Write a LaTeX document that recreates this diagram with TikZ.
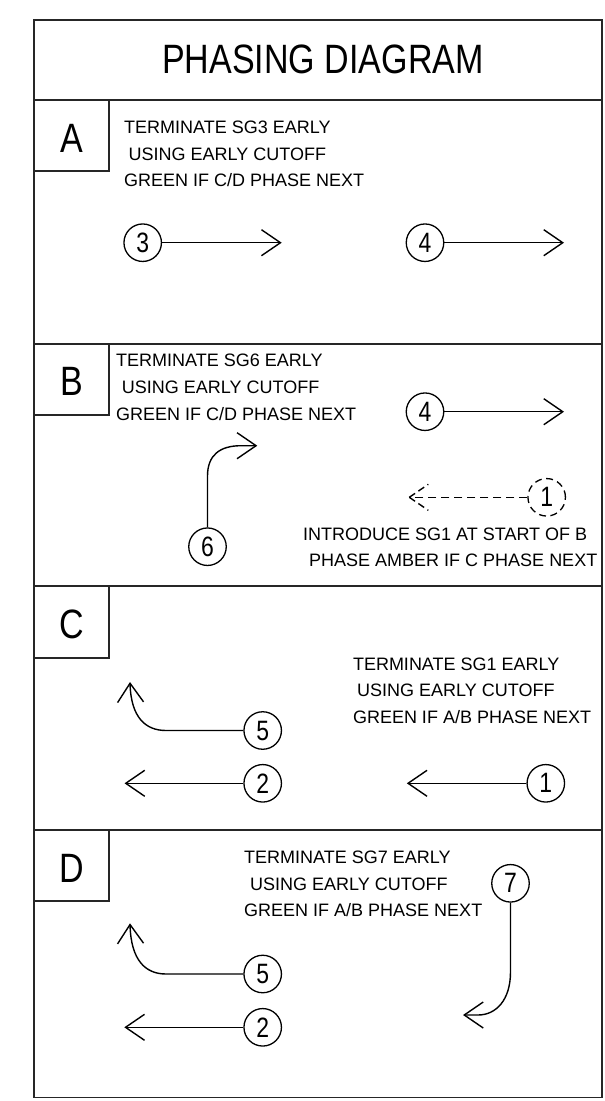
\documentclass[tikz,border=0pt]{standalone}
\usepackage{fontspec}
\setmainfont{Liberation Sans}
\usetikzlibrary{arrows.meta}
\newcommand\sgnum[1]{\scalebox{0.82}[1]{#1}}
\newcommand\narrowtxt[1]{\scalebox{0.83}[1]{#1}}
\begin{document}
\begin{tikzpicture}[x=1pt,y=-1pt,
  frame/.style={line width=1.8pt, draw=black!85},
  conn/.style={line width=1.4pt, -{Straight Barb[length=19pt,width=26pt]}},
  sig/.style={circle, draw, line width=1.3pt, minimum size=37.5pt, inner sep=0pt, font=\fontsize{28}{28}\selectfont},
  txt/.style={anchor=base west, inner sep=0pt, font=\fontsize{18}{20}\selectfont},
  big/.style={anchor=base, inner sep=0pt, font=\fontsize{41}{41}\selectfont},
  dsh/.style={line width=1.4pt, dash pattern=on 8pt off 5pt}
]
\useasboundingbox (0,0) rectangle (605,1101);
% frame
\draw[frame] (34.3,20.3) rectangle (602,1097.5);
\draw[frame] (34.3,99.7) -- (602,99.7);
\draw[frame] (34.3,344) -- (602,344);
\draw[frame] (34.3,586) -- (602,586);
\draw[frame] (34.3,830) -- (602,830);
% label boxes
\draw[frame] (34.3,171) -- (108.7,171) -- (108.7,99.7);
\draw[frame] (34.3,415) -- (108.7,415) -- (108.7,344);
\draw[frame] (34.3,657.7) -- (108.7,657.7) -- (108.7,586);
\draw[frame] (34.3,901) -- (108.7,901) -- (108.7,830);
% title and labels
\node[big] (title) at (323,73.3) {\narrowtxt{PHASING DIAGRAM}};
\node[big] (labA) at (72.3,152.3) {\narrowtxt{A}};
\node[big] (labB) at (71.7,395) {\narrowtxt{B}};
\node[big] (labC) at (72,638) {\narrowtxt{C}};
\node[big] (labD) at (72,882) {\narrowtxt{D}};
% ---------- A
\node[txt] (ta1) at (124,133.3) {TERMINATE SG3 EARLY};
\node[txt] (ta2) at (128.5,160) {USING EARLY CUTOFF};
\node[txt] (ta3) at (124,186.7) {GREEN IF C/D PHASE NEXT};
\node[sig] (a3) at (142.7,242.7) {\sgnum{3}};
\coordinate (a3t) at (281.7,242.7);
\draw[conn] (a3) -- (a3t);
\node[sig] (a4) at (425,242.7) {\sgnum{4}};
\coordinate (a4t) at (564,242.7);
\draw[conn] (a4) -- (a4t);
% ---------- B
\node[txt] (tb1) at (116,366.7) {TERMINATE SG6 EARLY};
\node[txt] (tb2) at (121.7,393.3) {USING EARLY CUTOFF};
\node[txt] (tb3) at (116,420) {GREEN IF C/D PHASE NEXT};
\node[sig] (b4) at (425,411.7) {\sgnum{4}};
\coordinate (b4t) at (564,411.7);
\draw[conn] (b4) -- (b4t);
\node[sig] (b6) at (207.5,546.7) {\sgnum{6}};
\coordinate (b6a) at (207.5,476);
\coordinate (b6t) at (257.3,445.7);
\draw[conn] (b6) -- (b6a) .. controls (207.5,455) and (220,445.7) .. (241,445.7) -- (b6t);
\node[sig, dash pattern=on 7pt off 4.5pt] (b1) at (546.7,497.3) {\sgnum{1}};
\coordinate (b1t) at (409.3,497.3);
\draw[dsh] (b1) -- (b1t);
\draw[line width=1.4pt, dash pattern=on 7pt off 4pt] (b1t) -- ++(19,-13) (b1t) -- ++(19,13);
\node[txt] (tb4) at (303,540) {INTRODUCE SG1 AT START OF B};
\node[txt] (tb5) at (309,566.7) {PHASE AMBER IF C PHASE NEXT};
% ---------- C
\node[txt] (tc1) at (352.8,670) {TERMINATE SG1 EARLY};
\node[txt] (tc2) at (357,696.7) {USING EARLY CUTOFF};
\node[txt] (tc3) at (352.8,723.3) {GREEN IF A/B PHASE NEXT};
\node[sig] (c5) at (262.7,730.5) {\sgnum{5}};
\coordinate (c5a) at (166,730.5);
\coordinate (c5t) at (130,682);
\draw[conn] (c5) -- (c5a) .. controls (146,730.5) and (131,718) .. (c5t);
\node[sig] (c2) at (262.7,783.3) {\sgnum{2}};
\coordinate (c2t) at (124.5,783.3);
\draw[conn] (c2) -- (c2t);
\node[sig] (c1) at (545.8,783.3) {\sgnum{1}};
\coordinate (c1t) at (406.8,783.3);
\draw[conn] (c1) -- (c1t);
% ---------- D
\node[txt] (td1) at (244,863.3) {TERMINATE SG7 EARLY};
\node[txt] (td2) at (250,890) {USING EARLY CUTOFF};
\node[txt] (td3) at (244,916.7) {GREEN IF A/B PHASE NEXT};
\node[sig] (d7) at (510.5,883.3) {\sgnum{7}};
\coordinate (d7a) at (510.5,972);
\coordinate (d7t) at (463,1015);
\draw[conn] (d7) -- (d7a) .. controls (510.5,1000) and (496,1015) .. (478,1015) -- (d7t);
\node[sig] (d5) at (262.7,974) {\sgnum{5}};
\coordinate (d5a) at (166,974);
\coordinate (d5t) at (130,923.3);
\draw[conn] (d5) -- (d5a) .. controls (146,974) and (131,961) .. (d5t);
\node[sig] (d2) at (262.7,1027.3) {\sgnum{2}};
\coordinate (d2t) at (124.3,1027.3);
\draw[conn] (d2) -- (d2t);
\end{tikzpicture}
\end{document}
